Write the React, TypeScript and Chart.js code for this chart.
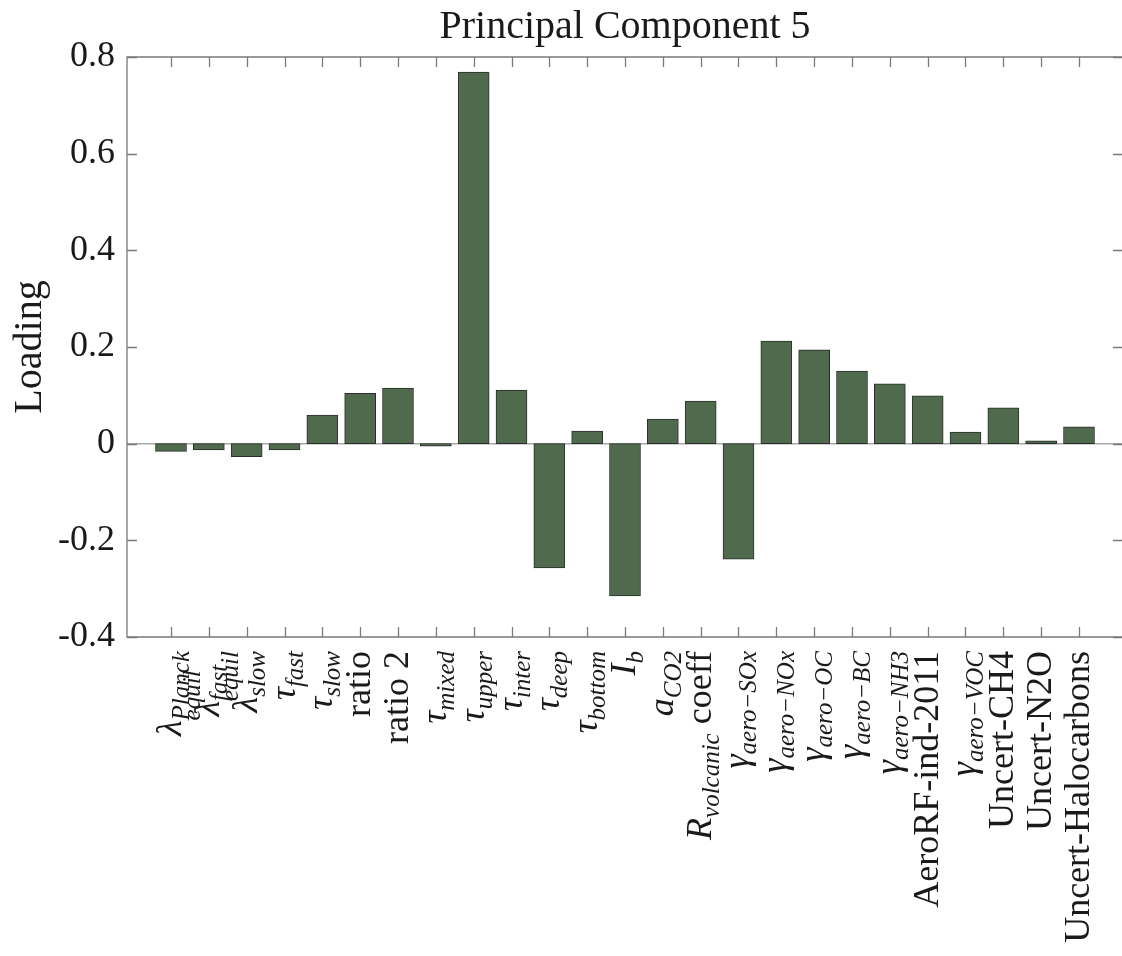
import React, { useEffect, useRef } from "react";
import { Chart, registerables } from "chart.js";

Chart.register(...registerables);

// ---- data ----
const chartTitle = "Principal Component 5";
const yAxisTitle = "Loading";

const categories: string[] = [
  "λ_{Planck}_{equil}",
  "λ_{fast}_{equil}",
  "λ_{slow}",
  "τ_{fast}",
  "τ_{slow}",
  "ratio",
  "ratio 2",
  "τ_{mixed}",
  "τ_{upper}",
  "τ_{inter}",
  "τ_{deep}",
  "τ_{bottom}",
  "I_{b}",
  "a_{CO2}",
  "R_{volcanic} coeff",
  "γ_{aero−SOx}",
  "γ_{aero−NOx}",
  "γ_{aero−OC}",
  "γ_{aero−BC}",
  "γ_{aero−NH3}",
  "AeroRF-ind-2011",
  "γ_{aero−VOC}",
  "Uncert-CH4",
  "Uncert-N2O",
  "Uncert-Halocarbons",
];

const loadings: number[] = [
  -0.016, -0.013, -0.027, -0.013, 0.059, 0.104, 0.115, -0.005, 0.769, 0.111,
  -0.257, 0.026, -0.315, 0.051, 0.088, -0.239, 0.212, 0.194, 0.15, 0.124,
  0.099, 0.024, 0.074, 0.006, 0.035,
];

const yTickValues: number[] = [-0.4, -0.2, 0, 0.2, 0.4, 0.6, 0.8];
const yTickLabels: string[] = ["-0.4", "-0.2", "0", "0.2", "0.4", "0.6", "0.8"];

// ---- style ----
const FONT = '"Liberation Serif", "Times New Roman", serif';
const TEXT = "#1a1a1a";
const AXIS = "#7a7a7a";
const BAR = "#4f6a4c";
const BAR_EDGE = "#2b2f2b";
const MAIN_PX = 36;
const SCRIPT_PX = 25;

type Run = { text: string; italic: boolean; kind: "base" | "sub" | "sup" };

function parseLabel(s: string): Run[] {
  const runs: Run[] = [];
  let buf = "";
  const flush = () => {
    if (buf) {
      runs.push({ text: buf, italic: false, kind: "base" });
      buf = "";
    }
  };
  let i = 0;
  while (i < s.length) {
    const c = s[i];
    if ((c === "_" || c === "^") && s[i + 1] === "{") {
      const end = s.indexOf("}", i + 2);
      const content = s.slice(i + 2, end);
      if (buf) {
        const last = buf.slice(-1);
        buf = buf.slice(0, -1);
        flush();
        runs.push({ text: last, italic: true, kind: "base" });
      }
      runs.push({ text: content, italic: true, kind: c === "_" ? "sub" : "sup" });
      i = end + 1;
      continue;
    }
    buf += c;
    i++;
  }
  flush();
  return runs;
}

function fontFor(r: Run) {
  const px = r.kind === "base" ? MAIN_PX : SCRIPT_PX;
  return `${r.italic ? "italic " : ""}${px}px ${FONT}`;
}

function drawRichLabel(ctx: CanvasRenderingContext2D, label: string, x: number, yEnd: number) {
  const runs = parseLabel(label);
  type Placed = { r: Run; x: number; shift: number };
  const placed: Placed[] = [];
  let cx = 0;
  let groupStart = -1;
  let groupWidth = 0;
  let subCount = 0;
  for (const r of runs) {
    ctx.font = fontFor(r);
    const w = ctx.measureText(r.text).width;
    if (r.kind === "base") {
      if (groupStart >= 0) {
        cx = groupStart + groupWidth;
        groupStart = -1;
        groupWidth = 0;
        subCount = 0;
      }
      placed.push({ r, x: cx, shift: 0 });
      cx += w;
    } else {
      if (groupStart < 0) {
        groupStart = cx;
        groupWidth = 0;
      }
      let shift = 0;
      if (r.kind === "sub") {
        shift = subCount === 0 ? 8 : 19;
        subCount++;
      } else {
        shift = -13;
      }
      placed.push({ r, x: groupStart, shift });
      groupWidth = Math.max(groupWidth, w);
    }
  }
  if (groupStart >= 0) cx = groupStart + groupWidth;
  const total = cx;

  ctx.save();
  ctx.translate(x, yEnd);
  ctx.rotate(-Math.PI / 2);
  ctx.fillStyle = TEXT;
  ctx.textAlign = "left";
  ctx.textBaseline = "alphabetic";
  for (const p of placed) {
    ctx.font = fontFor(p.r);
    ctx.fillText(p.r.text, -total + p.x, 10 + p.shift);
  }
  ctx.restore();
}

const matlabAxesPlugin = {
  id: "matlabAxes",
  beforeDatasetsDraw(chart: any) {
    const { ctx, chartArea } = chart;
    const y0 = chart.scales.y.getPixelForValue(0);
    ctx.save();
    ctx.strokeStyle = "#a8a8a8";
    ctx.lineWidth = 1.5;
    ctx.beginPath();
    ctx.moveTo(chartArea.left, y0);
    ctx.lineTo(chartArea.right, y0);
    ctx.stroke();
    ctx.restore();
  },
  afterDatasetsDraw(chart: any) {
    const { ctx, chartArea } = chart;
    const { left, right, top, bottom } = chartArea;
    const xs = chart.scales.x;
    const ys = chart.scales.y;
    const TL = 10;
    ctx.save();
    ctx.strokeStyle = AXIS;
    ctx.lineWidth = 1.3;
    ctx.beginPath();
    ctx.rect(left, top, right - left, bottom - top);
    ctx.stroke();
    ctx.beginPath();
    categories.forEach((_, i) => {
      const px = Math.round(xs.getPixelForValue(i)) + 0.5;
      ctx.moveTo(px, bottom);
      ctx.lineTo(px, bottom - TL);
      ctx.moveTo(px, top);
      ctx.lineTo(px, top + TL);
    });
    yTickValues.forEach((v) => {
      const py = Math.round(ys.getPixelForValue(v)) + 0.5;
      ctx.moveTo(left, py);
      ctx.lineTo(left + TL, py);
      ctx.moveTo(right, py);
      ctx.lineTo(right - TL, py);
    });
    ctx.stroke();
    ctx.restore();
  },
  afterDraw(chart: any) {
    const { ctx, chartArea } = chart;
    const xs = chart.scales.x;
    categories.forEach((lab, i) => {
      drawRichLabel(ctx, lab, xs.getPixelForValue(i), chartArea.bottom + 14);
    });
    ctx.save();
    ctx.fillStyle = TEXT;
    ctx.font = `40px ${FONT}`;
    ctx.textAlign = "center";
    ctx.textBaseline = "alphabetic";
    ctx.fillText(chartTitle, (chartArea.left + chartArea.right) / 2, 38);
    ctx.restore();
  },
};

export default function App() {
  const canvasRef = useRef<HTMLCanvasElement | null>(null);

  useEffect(() => {
    if (!canvasRef.current) return;
    const chart = new Chart(canvasRef.current, {
      type: "bar",
      data: {
        datasets: [
          {
            data: loadings.map((v, i) => ({ x: i, y: v })),
            backgroundColor: BAR,
            borderColor: BAR_EDGE,
            borderWidth: 1,
            borderSkipped: false,
            barThickness: 31,
          } as any,
        ],
      },
      options: {
        responsive: false,
        animation: false,
        devicePixelRatio: 1,
        layout: { padding: { top: 57, right: 1, bottom: 0, left: 0 } },
        plugins: {
          legend: { display: false },
          tooltip: { enabled: false },
          title: { display: false },
        },
        scales: {
          x: {
            type: "linear",
            offset: false,
            min: -1.163,
            max: 25.163,
            afterBuildTicks: (s: any) => {
              s.ticks = categories.map((_, i) => ({ value: i }));
            },
            afterFit: (s: any) => {
              s.height = 319;
            },
            ticks: { display: false },
            grid: { display: false, offset: false, drawTicks: false },
            border: { display: false },
          },
          y: {
            type: "linear",
            min: -0.4,
            max: 0.8,
            afterBuildTicks: (s: any) => {
              s.ticks = yTickValues.map((v) => ({ value: v }));
            },
            afterFit: (s: any) => {
              s.width = 127;
            },
            ticks: {
              padding: 12,
              color: TEXT,
              font: { family: FONT, size: MAIN_PX },
              callback: (value: any) => {
                const idx = yTickValues.findIndex((v) => Math.abs(v - Number(value)) < 1e-9);
                return idx >= 0 ? yTickLabels[idx] : "";
              },
            },
            grid: { display: false, drawTicks: false },
            border: { display: false },
            title: {
              display: true,
              text: yAxisTitle,
              color: TEXT,
              font: { family: FONT, size: 40 },
              padding: { top: 6, bottom: 0 },
            },
          },
        },
      } as any,
      plugins: [matlabAxesPlugin],
    });
    return () => chart.destroy();
  }, []);

  return (
    <div
      style={{
        position: "fixed",
        left: 0,
        top: 0,
        width: 1122,
        height: 956,
        overflow: "hidden",
        background: "#ffffff",
      }}
    >
      <canvas
        ref={canvasRef}
        width={1124}
        height={956}
        style={{ display: "block", width: 1124, height: 956 }}
      />
    </div>
  );
}
